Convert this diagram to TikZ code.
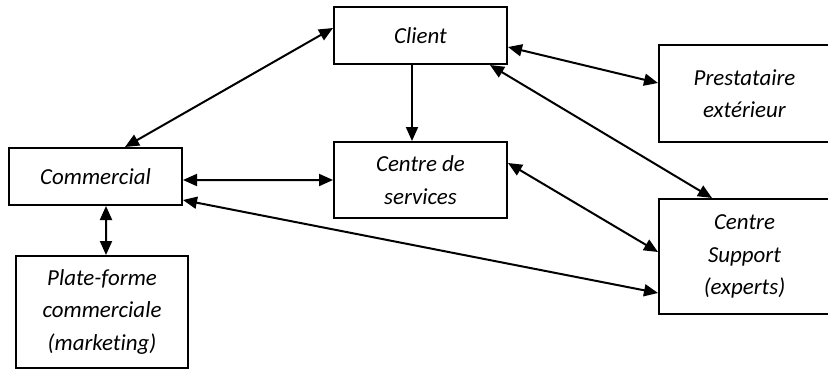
\documentclass[tikz,border=0pt]{standalone}
\usepackage{fontspec}
\setmainfont[Ligatures=CommonOff]{Carlito}
\usetikzlibrary{arrows.meta}

\begin{document}
\begin{tikzpicture}
[
	x=1bp, y=-1bp,
	box/.style={draw,line width=2bp,inner sep=0pt,align=center,
		font=\fontsize{23}{32.5}\selectfont\itshape},
	link/.style={line width=2bp,{Triangle[length=14bp,width=12bp]}-{Triangle[length=14bp,width=12bp]}},
	oneway/.style={line width=2bp,-{Triangle[length=14bp,width=12bp]}}
]
	\useasboundingbox (0,0) rectangle (828,370);

	% boxes
	\node[box,minimum width=173bp,minimum height=57bp] (client) at (420.5,35.5) {Client};
	\node[box,minimum width=171bp,minimum height=97bp] (prest) at (744.5,93.5) {Prestataire\\extérieur};
	\node[box,minimum width=173bp,minimum height=57bp] (comm) at (95.5,176.5) {Commercial};
	\node[box,minimum width=173bp,minimum height=76bp] (cds) at (420.5,180) {Centre de\\services};
	\node[box,minimum width=171bp,minimum height=115bp] (support) at (744.5,256.5) {Centre\\Support\\(experts)};
	\node[box,minimum width=172bp,minimum height=112bp] (plat) at (102,312) {Plate-forme\\commerciale\\(marketing)};

	% connectors
	\draw[link] ([yshift=7.5bp]client.west) -- ([xshift=29.5bp]comm.north);
	\draw[oneway] ([xshift=-8.5bp]client.south) -- ([xshift=-8.5bp]cds.north);
	\draw[link] ([yshift=-11.5bp]client.east) -- ([yshift=10.5bp]prest.west);
	\draw[link] ([xshift=69.5bp]client.south) -- ([xshift=-32.5bp]support.north);
	\draw[link] ([yshift=-3.5bp]comm.east) -- (cds.west);
	\draw[link] ([yshift=-23.5bp]comm.east) -- ([yshift=-36.5bp]support.west);
	\draw[link] ([yshift=17bp]cds.east) -- ([yshift=4.5bp]support.west);
	\draw[link] ([xshift=10.5bp]comm.south) -- ([xshift=4bp]plat.north);

\end{tikzpicture}
\end{document}
